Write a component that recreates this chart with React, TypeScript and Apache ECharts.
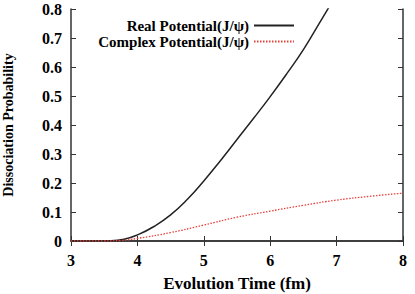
import React, { useEffect, useRef } from "react";
import * as echarts from "echarts";

const realX = [3, 3.4, 3.6, 3.8, 4, 4.25, 4.5, 4.75, 5, 5.25, 5.5, 5.75, 6, 6.25, 6.5, 6.75, 7];
const realY = [0, 0, 0.0005, 0.006, 0.021, 0.05, 0.09, 0.143, 0.207, 0.277, 0.35, 0.423, 0.498, 0.577, 0.66, 0.755, 0.85];
const complexX = [3, 3.5, 3.75, 4, 4.5, 5, 5.5, 6, 6.5, 7, 7.5, 8];
const complexY = [0, 0, 0.002, 0.009, 0.029, 0.055, 0.082, 0.103, 0.123, 0.141, 0.154, 0.165];
const xTicks = [3, 4, 5, 6, 7, 8];
const yTicks = [0, 0.1, 0.2, 0.3, 0.4, 0.5, 0.6, 0.7, 0.8];

const FONT = "Liberation Serif";

export default function App() {
  const ref = useRef<HTMLDivElement>(null);
  useEffect(() => {
    if (!ref.current) return;
    const chart = echarts.init(ref.current, null, { renderer: "svg" });
    const axisLine = { show: true, lineStyle: { color: "#333", width: 1.5 } };
    const tick = { show: true, inside: true, length: 5, lineStyle: { color: "#333", width: 1 } };
    chart.setOption({
      animation: false,
      backgroundColor: "#fff",
      grid: { left: 71, right: 12, top: 9, bottom: 53, containLabel: false, outerBoundsMode: "none" },
      legend: {
        orient: "vertical",
        right: 115,
        top: 13,
        align: "right",
        itemWidth: 40,
        itemHeight: 10,
        itemGap: 1,
        itemStyle: { opacity: 0 },
        textStyle: { fontFamily: FONT, fontWeight: "bold", fontSize: 15, color: "#000", lineHeight: 14 },
        data: ["Real Potential(J/ψ)", "Complex Potential(J/ψ)"],
      },
      xAxis: [
        {
          type: "value",
          min: 3,
          max: 8,
          interval: 1,
          axisLine,
          axisTick: tick,
          splitLine: { show: false },
          axisLabel: {
            fontFamily: FONT, fontWeight: "bold", fontSize: 16, color: "#000", margin: 11,
            formatter: (v: number) => (xTicks.includes(v) ? String(v) : ""),
          },
          name: "Evolution Time (fm)",
          nameLocation: "middle",
          nameGap: 34,
          nameTextStyle: { fontFamily: FONT, fontWeight: "bold", fontSize: 17, color: "#000" },
        },
        {
          type: "value", position: "top", min: 3, max: 8, interval: 1,
          axisLine, axisTick: tick, axisLabel: { show: false }, splitLine: { show: false },
        },
      ],
      yAxis: [
        {
          type: "value",
          min: 0,
          max: 0.8,
          interval: 0.1,
          axisLine,
          axisTick: tick,
          splitLine: { show: false },
          axisLabel: {
            fontFamily: FONT, fontWeight: "bold", fontSize: 16, color: "#000", margin: 9,
            formatter: (v: number) => {
              const t = yTicks.find((y) => Math.abs(y - v) < 1e-6);
              return t === undefined ? "" : t === 0 ? "0" : t.toFixed(1);
            },
          },
          name: "Dissociation Probability",
          nameLocation: "middle",
          nameGap: 56,
          nameTextStyle: { fontFamily: FONT, fontWeight: "bold", fontSize: 14, color: "#000" },
        },
        {
          type: "value", position: "right", min: 0, max: 0.8, interval: 0.1,
          axisLine, axisTick: tick, axisLabel: { show: false }, splitLine: { show: false },
        },
      ],
      series: [
        {
          name: "Real Potential(J/ψ)",
          type: "line",
          smooth: 0.5,
          symbol: "none",
          clip: true,
          data: realX.map((x, i) => [x, realY[i]]),
          lineStyle: { color: "#222", width: 1.5, type: "solid" },
          itemStyle: { color: "#222" },
        },
        {
          name: "Complex Potential(J/ψ)",
          type: "line",
          smooth: 0.5,
          symbol: "none",
          clip: true,
          data: complexX.map((x, i) => [x, complexY[i]]),
          lineStyle: { color: "#e8403a", width: 1.3, type: [1.5, 1.5] },
          itemStyle: { color: "#e8403a" },
        },
      ],
    });
    return () => chart.dispose();
  }, []);
  return <div ref={ref} style={{ width: 415, height: 294, position: "absolute", left: 0, top: 0 }} />;
}
